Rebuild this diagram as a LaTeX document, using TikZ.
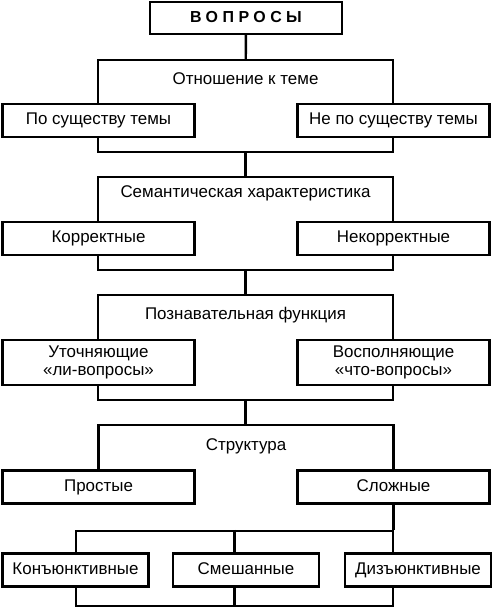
\documentclass[tikz,border=0pt]{standalone}
\usepackage{fontspec}
\setmainfont{Liberation Sans}
\newfontfamily\spacedfont[LetterSpace=28]{Liberation Sans}

\begin{document}
\begin{tikzpicture}[x=1bp, y=-1bp, line width=2.4bp,
        every node/.style={font=\fontsize{17}{18}\selectfont},
        frame/.style={draw, minimum width=295bp, inner sep=0pt},
        box/.style={draw, fill=white, minimum width=192bp, minimum height=33bp, align=center, inner sep=0pt},
        onebox/.style={box, text height=12bp, text depth=3.5bp},
        smallbox/.style={onebox, minimum width=146bp}]
        \useasboundingbox (0,0) rectangle (493,608);
        % vertex
        \node[onebox, minimum height=32bp, font=\spacedfont\bfseries\fontsize{16}{18}\selectfont] (q) at (246,18) {ВОПРОСЫ};
        % relation to the topic
        \node[frame, minimum height=92bp] (rel) at (245.5,106) {};
        \node (relT) at ([yshift=-20bp]rel.north) {Отношение к теме};
        \node[onebox] (onT) at (98.5,120.5) {По существу темы};
        \node[onebox] (offT) at (393.5,120.5) {Не по существу темы};
        \draw (q) -- (rel);
        % semantics
        \node[frame, minimum height=93bp] (sem) at (245.5,223.5) {};
        \node (semT) at ([yshift=-18bp]sem.north) {Семантическая характеристика};
        \node[onebox] (corr) at (98.5,238.5) {Корректные};
        \node[onebox] (incorr) at (393.5,238.5) {Некорректные};
        \draw (rel) -- (sem);
        % cognitive function
        \node[frame, minimum height=105bp] (cog) at (245.5,347.5) {};
        \node (cogT) at ([yshift=-21bp]cog.north) {Познавательная функция};
        \node[box, minimum height=45bp] (clar) at (98.5,362.5) {Уточняющие\\«ли-вопросы»};
        \node[box, minimum height=45bp] (fill) at (393.5,362.5) {Восполняющие\\«что-вопросы»};
        \draw (sem) -- (cog);
        % structure
        \coordinate (strTop) at (245.5,425);
        \node (strT) at (246,446) {Структура};
        \node[onebox] (simple) at (98.5,487) {Простые};
        \node[onebox] (complex) at (393.5,487) {Сложные};
        \draw (cog) -- (strTop);
        \draw (simple.north) |- (strTop) -| (complex.north);
        % kinds of complex questions
        \node[frame, minimum width=317bp, minimum height=75bp] (kind) at (234.5,568.5) {};
        \draw (kind.north) -- (kind.south);
        \draw (complex.south) -- (complex.south |- kind.north);
        \node[smallbox] (conj) at (75.5,570) {Конъюнктивные};
        \node[smallbox] (mix) at (246,570) {Смешанные};
        \node[smallbox] (disj) at (418,570) {Дизъюнктивные};
\end{tikzpicture}
\end{document}
